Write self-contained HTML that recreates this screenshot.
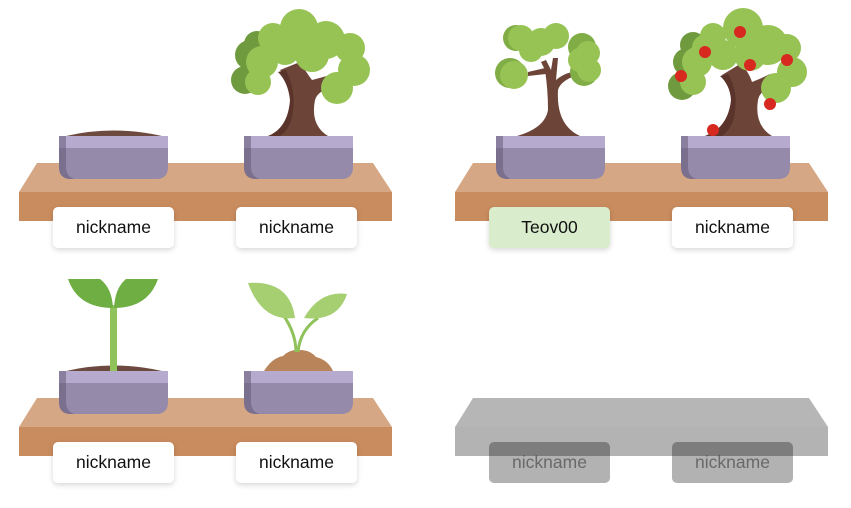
<!DOCTYPE html>
<html><head><meta charset="utf-8">
<style>
html,body{margin:0;padding:0;background:#fff;width:851px;height:508px;overflow:hidden;position:relative;font-family:"Liberation Sans",sans-serif}
svg{position:absolute;left:0;top:0}
.lbl{position:absolute;width:121px;height:41px;border-radius:5px;background:#fff;box-shadow:0 2px 6px rgba(0,0,0,.16);display:flex;align-items:center;justify-content:center;font-size:17.5px;color:#111}
.lbl.g{background:rgba(0,0,0,.3);box-shadow:none;color:rgba(80,80,80,.75)}
</style></head><body>
<svg width="851" height="508" viewBox="0 0 851 508">
<defs>
<g id="pot">
<path d="M0,0H109V31Q109,43 97,43H12Q0,43 0,31Z" fill="#958aa9"/>
<path d="M0,0H7V31Q7,40 15,43H12Q0,43 0,31Z" fill="#7b6f8e"/>
<rect x="0" y="0" width="109" height="12" fill="#b6aacf"/>
<rect x="0" y="0" width="7" height="12" fill="#8b7fa0"/>
</g>
<g id="shelf">
<polygon points="37,163 373,163 392,192 19,192" fill="#d6a784"/>
<rect x="19" y="192" width="373" height="29" fill="#c98c5e"/>
</g>
<g id="gshelf">
<polygon points="37,163 373,163 392,192 19,192" fill="#b6b6b6"/>
<rect x="19" y="192" width="373" height="29" fill="#b3b3b3"/>
</g>
</defs>
<use href="#shelf"/>
<use href="#shelf" x="436"/>
<use href="#shelf" y="235"/>
<use href="#gshelf" x="436" y="235"/>

<path d="M66,136Q113,125 162,136Z" fill="#6d4a3f"/>
<path d="M66,371Q113,360 162,371Z" fill="#6d4a3f"/>

<g>
<path d="M268,136Q292,128 292,100Q290,82 280,70L300,62Q308,75 312,80Q320,78 330,75L333,88Q318,90 315,100Q310,125 328,136Z" fill="#6d4538"/>
<path d="M268,136Q288,128 290,100Q288,82 278,72L286,70Q296,90 293,110Q292,128 280,136Z" fill="#5a342b"/>
<g fill="#6f9a3e"><circle cx="250" cy="55" r="15"/><circle cx="245" cy="80" r="14"/><circle cx="257" cy="44" r="13"/></g>
<g fill="#97c355"><circle cx="262" cy="62" r="16"/><circle cx="258" cy="82" r="13"/><circle cx="273" cy="38" r="15"/><circle cx="299" cy="28" r="19"/><circle cx="326" cy="40" r="19"/><circle cx="312" cy="55" r="17"/><circle cx="350" cy="48" r="15"/><circle cx="354" cy="70" r="16"/><circle cx="337" cy="88" r="16"/><circle cx="285" cy="50" r="15"/></g>
</g>

<g>
<path d="M517,136Q545,128 548,110Q548,90 545,70L541,62L546,60L551,70L553,58L558,58L556,80Q563,74 572,72L574,76Q560,82 558,90Q556,125 580,136Z" fill="#6d4538"/>
<path d="M545,68L528,72L528,76L546,74Z" fill="#6d4538"/>
<g fill="#80ad45"><circle cx="510" cy="73" r="15"/><circle cx="516" cy="38" r="13"/><circle cx="582" cy="47" r="14"/><circle cx="584" cy="72" r="14"/></g>
<g fill="#97c355"><circle cx="514" cy="75" r="14"/><circle cx="521" cy="38" r="13"/><circle cx="531" cy="50" r="12"/><circle cx="541" cy="42" r="14"/><circle cx="556" cy="36" r="13"/><circle cx="588" cy="53" r="12"/><circle cx="589" cy="70" r="12"/><circle cx="580" cy="60" r="12"/></g>
</g>

<g>
<path d="M705,136Q732,125 733,100Q732,85 722,75L740,64Q748,70 752,82Q762,78 770,74L773,88Q760,90 758,100Q754,125 772,136Z" fill="#6d4538"/>
<path d="M705,136Q728,128 731,100Q730,85 720,76L728,74Q738,90 735,112Q733,128 722,136Z" fill="#5a342b"/>
<g fill="#6f9a3e"><circle cx="687" cy="62" r="14"/><circle cx="682" cy="86" r="14"/><circle cx="693" cy="45" r="13"/></g>
<g fill="#97c355"><circle cx="697" cy="62" r="15"/><circle cx="693" cy="82" r="13"/><circle cx="706" cy="48" r="14"/><circle cx="713" cy="36" r="13"/><circle cx="743" cy="28" r="20"/><circle cx="768" cy="45" r="20"/><circle cx="750" cy="55" r="16"/><circle cx="787" cy="48" r="14"/><circle cx="792" cy="72" r="15"/><circle cx="776" cy="88" r="15"/><circle cx="723" cy="55" r="15"/></g>
<g fill="#d7291f"><circle cx="681" cy="76" r="6"/><circle cx="705" cy="52" r="6"/><circle cx="740" cy="32" r="6"/><circle cx="750" cy="65" r="6"/><circle cx="787" cy="60" r="6"/><circle cx="770" cy="104" r="6"/><circle cx="713" cy="130" r="6"/></g>
</g>

<g>
<rect x="110" y="305" width="7" height="66" fill="#8fc25a"/>
<path d="M113,308Q78,308 68,279H100Q112,288 113,308Z" fill="#6fae43"/>
<path d="M114,308Q148,308 158,279H126Q115,288 114,308Z" fill="#6fae43"/>
</g>

<g>
<path d="M264,371Q272,358 283,356Q290,349 300,350Q310,350 316,357Q328,360 333,371Z" fill="#b98459"/>
<path d="M296,352Q296,330 278,308" stroke="#8fc25a" stroke-width="3" fill="none"/>
<path d="M298,352Q300,330 318,318" stroke="#8fc25a" stroke-width="3" fill="none"/>
<path d="M248,283Q290,280 295,318Q262,322 248,283Z" fill="#a6cf72"/>
<path d="M347,294Q320,290 304,318Q338,322 347,294Z" fill="#a6cf72"/>
</g>

<use href="#pot" x="59" y="136"/>
<use href="#pot" x="244" y="136"/>
<use href="#pot" x="496" y="136"/>
<use href="#pot" x="681" y="136"/>
<use href="#pot" x="59" y="371"/>
<use href="#pot" x="244" y="371"/>
</svg>

<div class="lbl" style="left:53px;top:207px">nickname</div>
<div class="lbl" style="left:236px;top:207px">nickname</div>
<div class="lbl" style="left:489px;top:207px;background:#d9edcc">Teov00</div>
<div class="lbl" style="left:672px;top:207px">nickname</div>
<div class="lbl" style="left:53px;top:442px">nickname</div>
<div class="lbl" style="left:236px;top:442px">nickname</div>
<div class="lbl g" style="left:489px;top:442px">nickname</div>
<div class="lbl g" style="left:672px;top:442px">nickname</div>
</body></html>
